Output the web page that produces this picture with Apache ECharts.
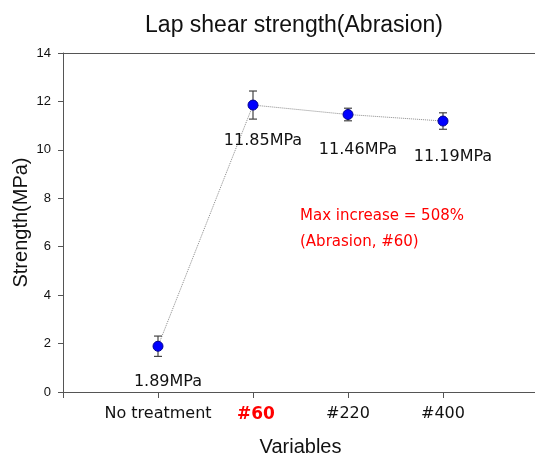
<!DOCTYPE html>
<html>
<head>
<meta charset="utf-8">
<script src="https://cdn.jsdelivr.net/npm/echarts@6/dist/echarts.min.js"></script>
<style>
  html, body { margin: 0; padding: 0; background: #fff; }
  #chart { width: 535px; height: 457px; }
</style>
</head>
<body>
<div id="chart"></div>
<script>
// data
var categories = ['No treatment', '#60', '#220', '#400'];
var strength = [1.89, 11.85, 11.46, 11.19];
var errors = [0.42, 0.58, 0.26, 0.34];
var yTicks = [0, 2, 4, 6, 8, 10, 12, 14];

var chart = echarts.init(document.getElementById('chart'));

// points sit at x = 1..4 on a 0..5 value axis
var points = strength.map(function(v, i) { return [i + 1, v]; });
var bars = strength.map(function(v, i) { return [i + 1, v - errors[i], v + errors[i]]; });

var labelFont = '"DejaVu Sans", Verdana, sans-serif';

chart.setOption({
    animation: false,
    title: {
        text: 'Lap shear strength(Abrasion)',
        left: 289,
        top: 9,
        textAlign: 'center',
        textStyle: { fontFamily: 'Arial, "Liberation Sans"', fontSize: 23, fontWeight: 'normal', color: '#111' }
    },
    grid: { left: 63, right: -3, top: 53, bottom: 65, containLabel: false, outerBoundsMode: 'none' },
    xAxis: [{
        type: 'value',
        min: 0,
        max: 5,
        interval: 1,
        name: 'Variables',
        nameLocation: 'middle',
        nameGap: 45,
        nameTextStyle: { fontFamily: 'Arial, "Liberation Sans"', fontSize: 20, color: '#111' },
        splitLine: { show: false },
        axisLine: { lineStyle: { color: '#555', width: 1 } },
        axisTick: { length: 6, lineStyle: { color: '#555' } },
        axisLabel: {
            margin: 14,
            fontFamily: labelFont,
            fontSize: 16,
            color: '#111',
            formatter: function(v) {
                var c = categories[v - 1];
                if (!c) return '';
                return v === 2 ? '{hl|' + c + '}' : c;
            },
            rich: {
                hl: { color: '#ff0000', fontWeight: 'bold', fontSize: 17, fontFamily: labelFont, padding: [0, 0, 0, 6] }
            }
        }
    }, {
        type: 'value',
        position: 'top',
        min: 0,
        max: 5,
        axisLine: { show: true, lineStyle: { color: '#555', width: 1 } },
        axisTick: { show: false },
        axisLabel: { show: false },
        splitLine: { show: false }
    }],
    yAxis: {
        type: 'value',
        min: yTicks[0],
        max: yTicks[yTicks.length - 1],
        interval: 2,
        name: 'Strength(MPa)',
        nameLocation: 'middle',
        nameGap: 32,
        nameMoveOverlap: false,
        nameTextStyle: { fontFamily: 'Arial, "Liberation Sans"', fontSize: 20, color: '#111' },
        splitLine: { show: false },
        axisLine: { show: true, lineStyle: { color: '#555', width: 1 } },
        axisTick: { show: true, length: 5, lineStyle: { color: '#555' } },
        axisLabel: { margin: 12, fontFamily: 'Arial, "Liberation Sans"', fontSize: 13, color: '#111' }
    },
    graphic: [{
        type: 'text',
        left: 300,
        top: 203,
        style: {
            text: 'Max increase = 508%\n(Abrasion, #60)',
            fill: '#ff0000',
            font: '15px "DejaVu Sans", Verdana, sans-serif',
            lineHeight: 26
        }
    }],
    series: [{
        type: 'line',
        data: points,
        symbol: 'none',
        lineStyle: { color: '#888', width: 1, type: 'dotted' },
        z: 1
    }, {
        type: 'custom',
        data: bars,
        renderItem: function(params, api) {
            var x = api.value(0);
            var lo = api.coord([x, api.value(1)]);
            var hi = api.coord([x, api.value(2)]);
            var cap = 4;
            var style = { stroke: '#444', lineWidth: 1.2 };
            return {
                type: 'group',
                children: [
                    { type: 'line', shape: { x1: lo[0], y1: lo[1], x2: hi[0], y2: hi[1] }, style: style },
                    { type: 'line', shape: { x1: lo[0] - cap, y1: lo[1], x2: lo[0] + cap, y2: lo[1] }, style: style },
                    { type: 'line', shape: { x1: hi[0] - cap, y1: hi[1], x2: hi[0] + cap, y2: hi[1] }, style: style }
                ]
            };
        },
        z: 2
    }, {
        type: 'scatter',
        data: points,
        symbol: 'circle',
        symbolSize: 10,
        itemStyle: { color: '#0000ff', borderColor: '#000090', borderWidth: 1, opacity: 1 },
        label: {
            show: true,
            position: 'bottom',
            distance: 22,
            offset: [10, 0],
            fontFamily: labelFont,
            fontSize: 16,
            color: '#111',
            formatter: function(p) { return p.value[1].toFixed(2) + 'MPa'; }
        },
        z: 3
    }]
});
</script>
</body>
</html>
